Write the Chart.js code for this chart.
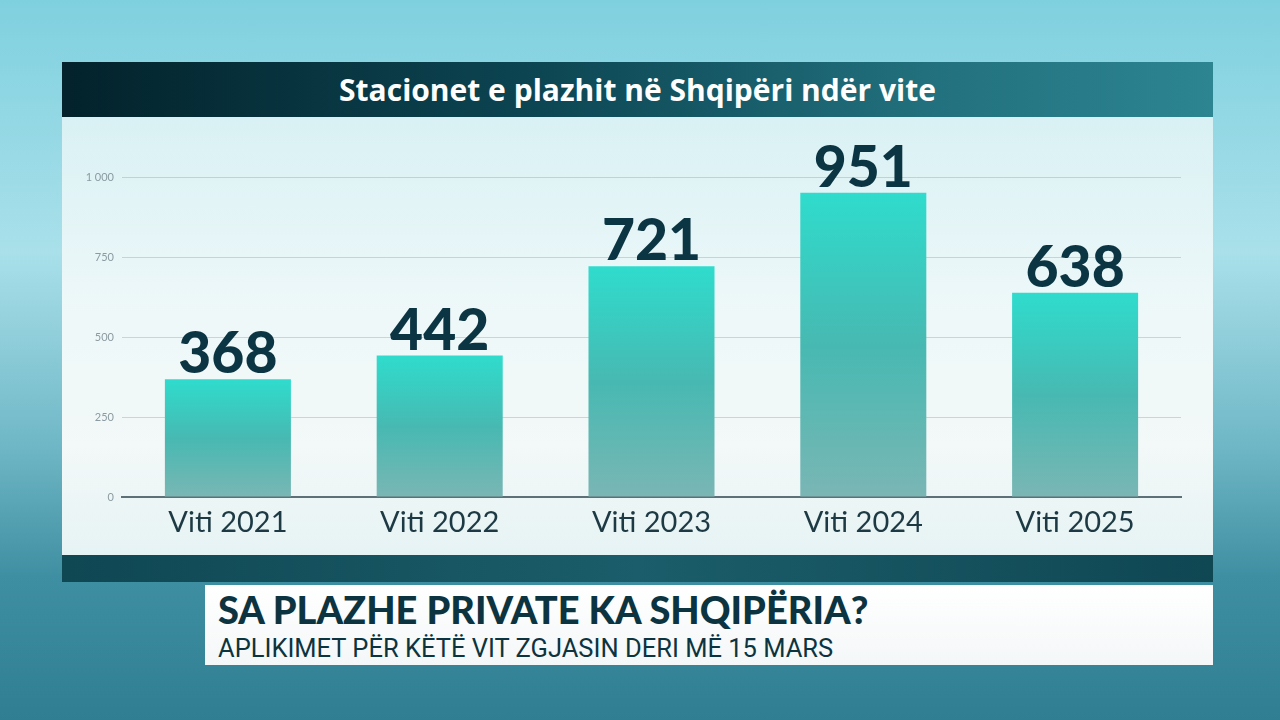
<!DOCTYPE html>
<html>
<head>
<meta charset="utf-8">
<script src="https://cdn.jsdelivr.net/npm/chart.js@4.4.1/dist/chart.umd.min.js"></script>
<style>
  html, body { margin: 0; padding: 0; }
  body {
    width: 1280px; height: 720px; overflow: hidden; position: relative;
    background: linear-gradient(180deg, #7fd0df 0%, #a9e0ea 35%, #6fb7c6 62%, #3f8fa2 80%, #2f7e91 100%);
    font-family: Lato, "Open Sans", sans-serif;
  }
  #header {
    position: absolute; left: 62px; top: 62px; width: 1151px; height: 55px;
    background: linear-gradient(90deg, #03222b 0%, #0c4451 40%, #22707d 75%, #2d8592 100%);
    color: #fff; font: 700 30px "Open Sans", sans-serif; text-align: center; line-height: 55px;
  }
  #panel {
    position: absolute; left: 62px; top: 117px; width: 1151px; height: 438px;
    background: linear-gradient(180deg, #d9f1f4 0%, #eef8f9 45%, #f3f8f8 75%, #e6f3f4 100%);
  }
  #strip {
    position: absolute; left: 62px; top: 555px; width: 1151px; height: 27px;
    background: linear-gradient(90deg, #0f4753 0%, #1b5d6a 50%, #0f4753 100%);
  }
  #banner {
    position: absolute; left: 205px; top: 585px; width: 1008px; height: 80px;
    background: linear-gradient(180deg, #ffffff 0%, #f4f7f8 100%);
  }
  #headline {
    position: absolute; left: 218px; top: 586px; color: #0c3440;
    font: 900 38px Lato, sans-serif;
  }
  #sub {
    position: absolute; left: 218px; top: 633px; color: #0c3440;
    font: 400 25.5px "Roboto", sans-serif;
  }
  #wrap { position: absolute; left: 62px; top: 117px; width: 1151px; height: 438px; }
</style>
</head>
<body>
<div id="header">Stacionet e plazhit në Shqipëri ndër vite</div>
<div id="panel"></div>
<div id="strip"></div>
<div id="banner"></div>
<div id="headline">SA PLAZHE PRIVATE KA SHQIPËRIA?</div>
<div id="sub">APLIKIMET PËR KËTË VIT ZGJASIN DERI MË 15 MARS</div>
<div id="wrap"><canvas id="chart" width="1151" height="438"></canvas></div>
<script>
const years = ['Viti 2021', 'Viti 2022', 'Viti 2023', 'Viti 2024', 'Viti 2025'];
const stations = [368, 442, 721, 951, 638];
const yTicks = [0, 250, 500, 750, 1000];

// bar fill: bright teal at the top fading to grey-teal at the base
function barFill(ctx) {
  const chart = ctx.chart;
  if (!chart.chartArea || ctx.parsed === undefined) return '#35c9bd';
  const y = chart.scales.y;
  const top = y.getPixelForValue(ctx.parsed.y);
  const base = y.getPixelForValue(0);
  const g = chart.ctx.createLinearGradient(0, top, 0, base);
  g.addColorStop(0, '#2fdccd');
  g.addColorStop(0.5, '#47b9b2');
  g.addColorStop(1, '#7ab6b4');
  return g;
}

const valueLabels = {
  id: 'valueLabels',
  afterDatasetsDraw(chart) {
    const c = chart.ctx;
    const meta = chart.getDatasetMeta(0);
    c.save();
    c.fillStyle = '#0b3543';
    c.font = '900 57px Lato, sans-serif';
    c.textAlign = 'center';
    c.textBaseline = 'alphabetic';
    meta.data.forEach((bar, i) => {
      c.fillText(String(stations[i]), bar.x, bar.y - 6);
    });
    c.restore();
  }
};

new Chart(document.getElementById('chart'), {
  type: 'bar',
  data: {
    labels: years,
    datasets: [{
      data: stations,
      backgroundColor: barFill,
      borderWidth: 0,
      categoryPercentage: 1,
      barPercentage: 0.595
    }]
  },
  options: {
    responsive: false,
    animation: false,
    layout: { padding: { top: 60, right: 32, left: 0, bottom: 0 } },
    plugins: { legend: { display: false }, tooltip: { enabled: false } },
    scales: {
      x: {
        grid: { display: false },
        border: { display: true, color: '#5d7078', width: 2 },
        ticks: { color: '#1d3a44', font: { family: 'Lato', size: 29 }, padding: 0 },
        afterFit(s) { s.height = 58; }
      },
      y: {
        min: 0, max: 1000,
        afterBuildTicks(s) { s.ticks = yTicks.map(v => ({ value: v })); },
        afterFit(s) { s.width = 60; },
        grid: { color: 'rgba(150,172,178,0.45)', drawTicks: false },
        border: { display: false },
        ticks: {
          color: '#8a9ba1', font: { family: 'Lato', size: 11 }, padding: 8,
          callback: v => String(v).replace(/\B(?=(\d{3})+(?!\d))/g, ' ')
        }
      }
    }
  },
  plugins: [valueLabels]
});
</script>
</body>
</html>
